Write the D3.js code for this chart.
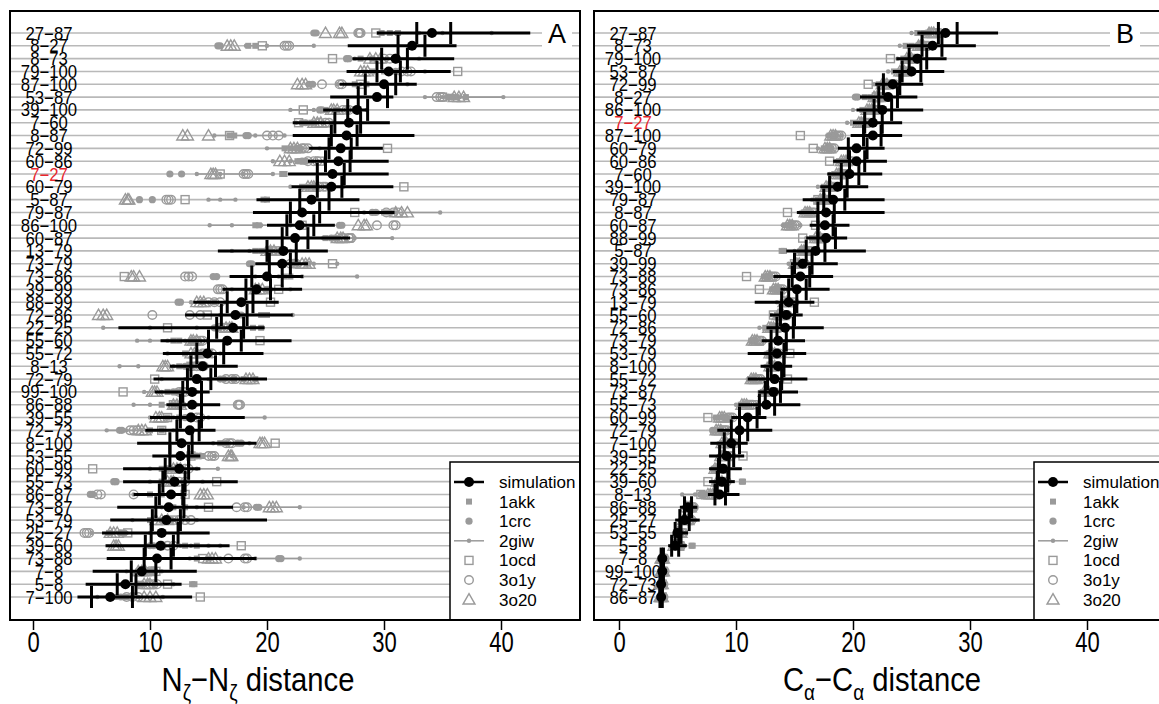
<!DOCTYPE html>
<html>
<head>
<meta charset="utf-8">
<script src="https://cdn.jsdelivr.net/npm/d3@7"></script>
<style>
  body { margin: 0; background: #fff; }
  text { font-family: 'Liberation Sans', Arial, sans-serif; }
</style>
</head>
<body>
<svg id="main"></svg>
<script>
// ---------- panel A : Nz-Nz distances ----------
const labelsA = ['27−87','8−27','8−73','79−100','87−100','53−87','39−100','7−60','8−87','72−99','60−86','7−27','60−79','5−87','79−87','86−100','60−87','13−79','73−79','73−86','39−99','88−99','72−86','22−25','55−60','55−72','8−13','72−79','99−100','86−88','39−55','72−73','8−100','53−55','60−99','55−73','86−87','73−87','53−79','25−27','39−60','73−88','7−8','5−8','7−100'];
const medA = [34.1,32.4,31.0,30.4,30.0,29.4,27.7,27.0,26.8,26.3,26.1,25.6,25.5,23.8,23.0,22.8,22.4,21.4,21.3,20.0,19.1,17.8,17.3,17.1,16.6,14.9,14.5,14.0,13.6,13.6,13.5,13.4,12.7,12.6,12.5,12.1,11.8,11.6,11.4,11.0,10.9,10.6,9.3,7.9,6.6];
const loA = [29.4,26.9,27.3,26.8,26.2,25.4,24.8,22.2,22.2,23.6,23.5,21.8,22.1,19.1,18.8,20.0,18.4,15.8,19.0,16.8,16.2,13.7,13.0,7.3,10.9,11.1,11.7,10.3,10.4,11.4,10.0,9.6,8.9,10.2,7.7,7.7,8.6,7.2,6.6,5.9,6.2,6.3,5.1,4.5,3.8];
const hiA = [42.5,36.2,36.0,35.7,32.8,30.8,28.6,30.5,32.6,29.9,30.4,30.4,30.8,27.9,30.9,25.8,27.1,25.2,23.5,23.1,23.0,21.0,22.2,19.8,22.1,19.7,17.5,20.0,15.1,16.0,18.1,15.6,19.1,14.3,14.3,17.5,13.1,17.1,20.0,15.1,16.8,19.1,14.0,12.7,13.6];
const q1A = [32.8,31.2,29.8,29.4,28.4,27.8,26.9,25.8,25.5,25.3,25.0,24.3,24.3,22.8,22.0,21.7,21.3,20.0,20.2,18.7,18.2,16.6,16.1,15.7,15.0,14.0,13.5,13.2,12.8,12.6,12.6,12.3,11.7,11.7,11.3,11.1,10.8,10.5,10.2,10.1,9.6,9.5,8.4,7.2,5.0];
const q3A = [35.7,33.5,32.0,31.4,31.0,30.3,28.6,28.0,27.7,27.2,27.1,26.6,26.4,25.3,24.5,24.0,23.5,22.5,22.0,21.3,20.3,18.8,18.3,18.0,17.8,16.3,15.6,15.2,14.4,14.4,14.4,14.2,13.6,13.3,13.3,13.0,12.8,12.9,12.6,12.4,12.0,11.8,10.5,8.8,8.5];

const giwA = [[29.5,31,33,35,39.2],[18.2,19,20,24],[27.5,29,31,33],[28.5,30,32,33.5],[26,28,30,32],[33.5,35,36.5,40.2],[22,24,26,28.5],[22.5,24,25.5,27],[15.5,17,19,21.5],[20,21.5,23,24.5],
  [20.5,22,23.5,25],[14,16,18,20.5],[22,23.5,25,26.5],[15,16,17.3],[28.3,29.5,31,34.8],[15.1,17,19.5,22],[24.8,26,27.5,30.7],[17,18.5,20,22],[21,22.5,24,26],[19,21,23,27.7],
  [17,18.5,20,22],[13.5,15,16.5,18],[16,18,20,22.2],[6,10,14,17],[8.9,10,11.5,13],[11.5,13,14.5,16],[7.4,9,12,14],[11,13,15,17],[9.5,11,12.5,14],[8.6,10,12,14],
  [10,12,15,19.8],[6.3,8,10,12],[15.4,16.5,17.5,18.5],[12.5,14,15.5,17],[10,12,14,15.8],[10,11.5,13,14.5],[8.6,10,11.5,13],[11,14,18,22.8],[8.5,10,12,14],[5,6.5,8,10],
  [12.6,13.5,15,16],[13.4,16,19,22.8],[8,9,10,11],[7.5,9,10.5,12],[5.5,7,9,11.1]];
const akkA = [[29.8,30.5,31.2],[18.4,19.0],[28.0,29.0],[29,30],[27.5,28.5],[36.2,37],[25,26],[23.8,24.0],[16.8,17.2],[21.5,22.0],
  [22.6,22.8],[21.3,21.5],[23,23.5],[19.7,20.0],[30,30.5],[19.0,19.3],[25,26],[19,19.5],[22.5,23.5],[21.5,22],
  [19,20],[14.5,15.5],[19.5,20],[18.8,19.5],[12,12.5],[13,14],[12.5,13.5],[17.2,18,19],[11.5,12.5],[11,12],
  [11.5,12.5],[10,11],[16,16.5],[13.5,14.5],[11,12],[11,12],[10,11],[12,13],[10,11],[6.5,7.5],
  [13,14],[14,15],[9,10],[13.6,13.8],[7,8]];
const crcA = [[24.0,24.2],[15.8,16.0],[26.8,27.0],[30.5,31],[23.6,23.9],[35.5,35.8],[24.5,24.7],[23,23.3],[18.2,18.4],[22.5,22.8],
  [23,23.3],[11.7,12.7],[24,24.2],[9.1,10.2],[29,29.3],[26.2,26.4],[25.5,25.8],[20,20.3],[18.5,18.7],[15.4,15.7],
  [20,20.2],[12.4,12.6],[17.5,17.8],[15.5,15.8],[13.5,13.8],[14,14.3],[13,13.3],[16,16.3],[12,12.3],[12.5,12.8],
  [13,13.3],[7.4,7.6],[17.5,17.8],[14,14.3],[11.5,11.8],[6.9,7.1],[4.9,5.1],[19.1,19.3],[11.5,11.8],[7.5,7.8],
  [10,10.3],[21,21.2],[10,10.3],[9,9.3],[7.5,7.8]];
const ocdA = [29.3,19.6,25.6,36.3,28.0,35.0,23.1,22.7,16.8,30.3,24.5,16.0,31.7,13.0,27.5,23.0,27.0,20.5,25.6,7.8,21.0,20.3,14.9,11.5,19.4,15.0,13.5,10.4,7.7,12.0,11.5,11.0,20.7,13.5,5.1,15.7,13.0,15.0,12.0,8.1,17.8,14.5,10.5,11.5,14.3];
const o1yA = [[27.8,27.9,28.0],[21.5,21.7,21.9],[30,30.5,31],[31.5,32,32.3],[24.7,26.2,26.4],[34.5,34.8,35],[26.5,26.8,27],[24.5,25,25.3],[20,20.5,21],[23,23.2,23.5],
  [23.5,24,24.3],[18,18.2,18.4],[24.5,24.8,25],[11.4,11.6,11.8],[30.2,30.8,31.2],[29.4,30.8,31.0],[26.5,27,27.2],[20.5,21,21.3],[22,22.3,22.5],[13,13.3,13.6],
  [15.8,16,16.2],[15,15.5,16],[10.2,13.4,14.3],[16,16.3,16.6],[14,14.3,14.5],[14.5,15,15.3],[14,14.3,14.6],[16.5,17,17.3],[12.5,12.8,13],[17.5,17.6,17.7],
  [13.5,14,14.3],[8.3,8.6,8.9],[16.5,16.8,17],[15,15.3,15.5],[12.5,13,13.3],[12,12.5,13],[5.5,5.8,8.6],[17.4,18.1,18.3],[12.5,13,13.5],[4.4,4.6,4.8],
  [11,11.5,12],[16.7,18.1,18.3],[9.5,10,10.3],[10,10.3,10.6],[8,8.5,9]];
const o20A = [[25.0,26.2,26.4],[16.6,16.9,17.2],[28.8,29.3,29.7],[28,28.3,28.6],[22.6,23,23.3],[36,36.4,36.8],[25.5,25.7,26],[24,24.3,24.6],[12.8,13.2,15.0],[22,22.3,22.6],
  [21.1,21.5,21.9],[15.2,15.4,15.6],[23.5,23.8,24],[7.9,8.1,8.2],[31,31.5,32],[27.8,28.3,28.5],[26,26.3,26.5],[20,20.3,20.6],[23,23.3,23.6],[8.4,8.6,9.1],
  [19,19.3,19.6],[14,14.3,14.6],[5.6,6.0,6.3],[16.5,16.8,17],[13.5,13.7,14],[13.5,13.8,14],[11.1,11.3,11.5],[18.2,18.5,18.8],[10.2,10.4,10.6],[12,12.3,12.6],
  [10.5,10.8,11],[9,9.3,9.6],[19.4,19.6,19.8],[16.7,16.9,17],[12,12.3,12.6],[11.5,11.8,12],[14.3,14.6,14.9],[20.2,20.5,20.8],[10.5,11,11.5],[6.6,6.9,7.2],
  [6.9,7.1,7.3],[15,15.3,15.6],[9,9.3,9.6],[9.5,9.8,10],[9.5,10,10.5]];

// ---------- panel B : Ca-Ca distances ----------
const labelsB = ['27−87','8−73','79−100','53−87','72−99','8−27','86−100','7−27','87−100','60−79','60−86','7−60','39−100','79−87','8−87','60−87','88−99','5−87','39−99','73−88','73−86','13−79','55−60','72−86','73−79','53−79','8−100','55−72','73−87','55−73','60−99','72−79','7−100','39−55','22−25','39−60','8−13','86−88','25−27','53−55','5−8','7−8','99−100','72−73','86−87'];
const medB = [27.9,26.8,25.5,25.0,23.4,23.0,22.5,21.7,21.7,20.3,20.3,19.7,18.7,18.3,17.7,17.6,17.7,16.8,15.7,15.5,15.2,14.5,14.3,14.2,13.6,13.5,13.6,13.3,13.2,12.6,11.0,10.3,9.6,9.2,8.9,8.8,8.6,5.9,5.6,5.0,4.8,3.7,3.7,3.6,3.6];
const loB = [25.5,24.6,23.7,23.4,21.9,20.6,20.3,20.0,19.8,18.7,18.3,17.8,17.2,15.7,15.2,16.3,16.0,14.3,14.7,13.2,13.8,11.6,12.9,12.6,12.2,11.0,12.1,11.0,11.9,10.2,9.6,8.4,7.8,7.7,7.7,7.7,7.6,5.2,4.8,4.6,4.2,3.5,3.5,3.5,3.5];
const hiB = [32.4,30.5,28.0,27.8,26.0,25.5,26.0,24.2,24.2,22.7,22.9,22.5,21.3,22.7,22.7,19.7,19.5,21.1,18.7,18.3,18.0,16.7,15.7,17.5,15.9,16.0,14.8,16.1,15.3,15.5,12.6,13.1,11.0,10.7,10.5,9.9,10.3,6.7,6.9,5.9,5.8,3.9,3.9,3.8,3.8];
const q1B = [27.3,25.9,24.8,24.2,22.6,22.2,21.8,21.0,20.9,19.6,19.7,19.0,18.0,17.5,17.0,17.0,17.0,16.0,15.0,14.8,14.5,13.9,13.8,13.5,13.0,12.9,13.0,12.7,12.5,12.0,10.3,9.6,9.0,8.6,8.5,8.4,8.2,5.6,5.2,4.8,4.5,3.6,3.6,3.5,3.5];
const q3B = [28.9,27.6,26.3,25.8,24.0,23.8,23.3,22.5,22.4,21.2,21.0,20.5,19.5,19.3,18.4,18.3,18.5,17.6,16.5,16.3,16.0,15.2,15.0,14.9,14.3,14.1,14.1,13.9,13.8,13.3,11.8,11.0,10.3,9.8,9.4,9.3,9.1,6.2,6.0,5.3,5.1,3.8,3.8,3.7,3.7];

const giwB = [[25,26,27.5],[24,25,26.2],[23.8,24.5,25],[23,23.8,24.5],[21.8,22.5,23.5],[20.2,21.5,22.5],[20,21,22],[19.5,20.5,21.5],[17.8,18.4,19],[17,17.6,18.2],
  [18.5,19.2,20],[18,18.8,19.5],[17,17.8,18.5],[16.5,17.2,18],[15.5,16,16.5],[14,14.8,15.5],[16,16.8,17.5],[15,15.8,16.5],[14.5,15.2,16],[12.3,12.9,13.5],
  [13,13.5,14],[13.5,14.2,15],[13,13.8,14.5],[12,12.8,13.5],[11.2,11.8,12.5],[12.5,13,13.5],[12.5,13,13.5],[11,11.6,12.3],[12,12.5,13],[10,10.9,11.8],
  [8.2,8.8,9.5],[8,8.6,9.3],[8.5,9,9.5],[8.5,9,9.5],[8,8.5,9],[8.2,8.6,9],[5.4,6.5,7.6],[5.5,6,6.5],[5.2,5.8,6.5],[4.8,5.2,5.6],
  [4.6,5,5.5],[3.5,3.7,3.9],[3.5,3.7,3.9],[3.5,3.6,3.8],[3.5,3.6,3.8]];
const akkB = [[25.5,26],[24.5,25],[24.3,24.6],[23.5,24],[22.2,22.6],[21,21.5],[20.8,21.2],[20,20.5],[18,18.4],[17.5,17.9],
  [18.8,19.2],[18.4,18.8],[17.5,17.9],[17,17.4],[15.8,16.2],[14.2,14.6],[16.5,16.9],[13.9,14.1],[15,15.4],[12.4,12.8],
  [13.1,13.5],[14,14.4],[13.5,13.9],[12.5,12.9],[11.3,11.6],[12.8,13.2],[12.8,13.1],[11.2,11.5],[12.3,12.7],[10.4,10.8],
  [8.3,8.8],[8.2,8.6],[8.8,9.2],[8.8,9.1],[8.1,8.4],[10.5,10.6],[7.4,7.5],[5.8,6.1],[5.5,5.8],[5,5.3],
  [6.2,6.3],[3.6,3.7],[3.6,3.7],[3.5,3.6],[3.5,3.6]];
const crcB = [[26.3,26.5],[25.5,25.8],[24.8,25],[24.2,24.4],[22.8,23],[20.2,20.4],[21.3,21.5],[20.8,21],[18.2,18.5],[17.8,18],
  [19.4,19.6],[19,19.2],[18,18.2],[17.5,17.7],[16,16.2],[14.5,14.7],[17,17.2],[15.5,15.7],[15.2,15.4],[12.6,12.8],
  [13.3,13.5],[14.3,14.5],[13.8,14],[13,13.2],[11.4,11.6],[13,13.2],[13,13.2],[11.3,11.5],[12.6,12.8],[10.6,10.8],
  [9,9.2],[8,8.3],[9,9.2],[9,9.2],[8.1,8.3],[8.5,8.7],[7.0,7.2],[6,6.2],[5.6,5.8],[5.1,5.3],
  [4.9,5.1],[3.7,3.8],[3.7,3.8],[3.6,3.7],[3.6,3.7]];
const ocdB = [26.8,25.9,23.2,24.6,21.3,22.0,21.6,21.0,15.5,16.6,18.0,19.0,18.3,17.0,14.4,16.8,15.7,15.8,15.0,10.9,12.0,16.7,13.2,13.5,12.0,14.6,13.0,14.4,13.0,11.5,7.6,9.0,9.8,10.6,8.8,7.6,7.0,6.2,6.0,5.4,5.2,3.8,3.8,3.7,3.7];
const o1yB = [[27,27.2,27.4],[26,26.2,26.4],[25.2,25.3,25.5],[24.6,24.8,25],[23.2,23.4,23.6],[22.2,22.4,22.6],[21.8,22,22.2],[21,21.2,21.4],[18.6,18.8,19],[18,18.2,18.4],
  [19.5,19.7,19.9],[19.2,19.4,19.6],[18.2,18.4,18.6],[17.6,17.8,18],[16.3,16.5,16.7],[14.8,15,15.2],[17.2,17.4,17.6],[16,16.2,16.4],[15.5,15.7,15.9],[13,13.2,13.4],
  [13.6,13.8,14],[14.6,14.8,15],[14,14.2,14.4],[13.3,13.5,13.7],[11.8,12,12.2],[13.3,13.5,13.7],[13.2,13.4,13.6],[11.7,11.9,12.1],[12.9,13.1,13.3],[11,11.2,11.4],
  [9.3,9.5,9.7],[8.8,9,9.2],[9.3,9.5,9.7],[9.2,9.4,9.6],[8.5,8.7,8.9],[8.8,9,9.2],[8,8.2,8.4],[6.1,6.3,6.4],[5.8,6,6.2],[5.2,5.4,5.5],
  [5,5.1,5.3],[3.7,3.8,3.9],[3.7,3.8,3.9],[3.6,3.7,3.8],[3.6,3.7,3.8]];
const o20B = [[26.5,26.7,26.9],[25.6,25.8,26],[24.6,24.8,25],[24,24.2,24.4],[22.5,22.7,22.9],[21.8,22,22.2],[21.2,21.4,21.6],[20.5,20.7,20.9],[18.1,18.3,18.5],[17.6,17.8,18],
  [19,19.2,19.4],[18.6,18.8,19],[17.7,17.9,18.1],[17.2,17.4,17.6],[15.9,16.1,16.3],[14.4,14.6,14.8],[16.8,17,17.2],[15.6,15.8,16],[15,15.2,15.4],[12.5,12.7,12.9],
  [13.2,13.4,13.6],[14.1,14.3,14.5],[13.6,13.8,14],[12.8,13,13.2],[11.4,11.6,11.8],[12.9,13.1,13.3],[12.9,13.1,13.3],[11.3,11.5,11.7],[12.4,12.6,12.8],[10.5,10.7,10.9],
  [8.6,8.8,9],[8.3,8.5,8.7],[8.8,9,9.2],[8.7,8.9,9.1],[8.2,8.4,8.6],[8.4,8.6,8.8],[7.6,7.8,8],[5.8,6,6.1],[5.5,5.7,5.9],[5,5.1,5.3],
  [4.7,4.9,5],[3.6,3.7,3.8],[3.6,3.7,3.8],[3.5,3.6,3.7],[3.5,3.6,3.7]];

const xTicks = [0, 10, 20, 30, 40];
const legendNames = ['simulation', '1akk', '1crc', '2giw', '1ocd', '3o1y', '3o20'];
const highlight = '7−27';

// ---------- drawing ----------
const width = 1159, height = 704;
const svg = d3.select('#main').attr('width', width).attr('height', height);

const GRAY = '#9a9a9a', ROWLINE = '#b9b9b9';
const panelTop = 11, panelBottom = 620;

const spread = (rows, labels) => {
  let out = [];
  rows.forEach((vals, i) => {
    [].concat(vals).forEach(v => out.push({ row: labels[i], v: v }));
  });
  return out;
};

const drawPanel = (p) => {
  const g = svg.append('g');
  const x = d3.scaleLinear().domain([0, 40]).range([p.zero, p.zero + 468]);
  const y = d3.scalePoint().domain(p.labels).range([33, 597]);

  g.append('rect')
    .attr('x', p.left).attr('y', panelTop)
    .attr('width', p.right - p.left).attr('height', panelBottom - panelTop)
    .attr('fill', 'white');

  // row guide lines
  g.selectAll('.row')
    .data(p.labels)
    .enter()
    .append('line')
    .attr('x1', p.left).attr('x2', p.right)
    .attr('y1', d => y(d)).attr('y2', d => y(d))
    .attr('stroke', ROWLINE)
    .attr('stroke-width', 1.6);

  // row labels
  g.selectAll('.lab')
    .data(p.labels)
    .enter()
    .append('text')
    .text(d => d)
    .attr('transform', d => `translate(${p.left + 39},${y(d) + 6.5}) scale(0.93,1)`)
    .attr('text-anchor', 'middle')
    .attr('font-size', 18)
    .attr('fill', d => d == highlight ? '#e8262d' : 'black');

  // 2giw: range line + small points
  g.selectAll('.giw')
    .data(p.giw.map((v, i) => ({ row: p.labels[i], a: d3.min(v), b: d3.max(v) })))
    .enter()
    .append('line')
    .attr('x1', d => x(d.a)).attr('x2', d => x(d.b))
    .attr('y1', d => y(d.row)).attr('y2', d => y(d.row))
    .attr('stroke', GRAY)
    .attr('stroke-width', 1.6);

  g.selectAll('.giwpt')
    .data(spread(p.giw, p.labels))
    .enter()
    .append('circle')
    .attr('cx', d => x(d.v)).attr('cy', d => y(d.row))
    .attr('r', 2.2)
    .attr('fill', GRAY);

  // 1akk filled squares
  g.selectAll('.akk')
    .data(spread(p.akk, p.labels))
    .enter()
    .append('rect')
    .attr('x', d => x(d.v) - 3).attr('y', d => y(d.row) - 3)
    .attr('width', 6).attr('height', 6)
    .attr('fill', GRAY);

  // 1crc filled circles
  g.selectAll('.crc')
    .data(spread(p.crc, p.labels))
    .enter()
    .append('circle')
    .attr('cx', d => x(d.v)).attr('cy', d => y(d.row))
    .attr('r', 3.6)
    .attr('fill', GRAY);

  // 1ocd open squares
  g.selectAll('.ocd')
    .data(spread(p.ocd, p.labels))
    .enter()
    .append('rect')
    .attr('x', d => x(d.v) - 4).attr('y', d => y(d.row) - 4)
    .attr('width', 8).attr('height', 8)
    .attr('fill', 'none')
    .attr('stroke', GRAY)
    .attr('stroke-width', 1.4);

  // 3o1y open circles
  g.selectAll('.o1y')
    .data(spread(p.o1y, p.labels))
    .enter()
    .append('circle')
    .attr('cx', d => x(d.v)).attr('cy', d => y(d.row))
    .attr('r', 4.3)
    .attr('fill', 'none')
    .attr('stroke', GRAY)
    .attr('stroke-width', 1.4);

  // 3o20 open triangles
  g.selectAll('.o20')
    .data(spread(p.o20, p.labels))
    .enter()
    .append('path')
    .attr('d', d3.symbol(d3.symbolTriangle).size(62))
    .attr('transform', d => `translate(${x(d.v)},${y(d.row) + 1})`)
    .attr('fill', 'none')
    .attr('stroke', GRAY)
    .attr('stroke-width', 1.4);

  // simulation: range, quartile ticks, median
  g.selectAll('.whisk')
    .data(p.labels)
    .enter()
    .append('line')
    .attr('x1', (d, i) => x(p.lo[i])).attr('x2', (d, i) => x(p.hi[i]))
    .attr('y1', d => y(d)).attr('y2', d => y(d))
    .attr('stroke', 'black')
    .attr('stroke-width', 3);

  [p.q1, p.q3].forEach(q => {
    g.selectAll('.qt')
      .data(p.labels, function () { return null; })
      .enter()
      .append('line')
      .attr('x1', (d, i) => x(q[i])).attr('x2', (d, i) => x(q[i]))
      .attr('y1', d => y(d) - 11).attr('y2', d => y(d) + 11)
      .attr('stroke', 'black')
      .attr('stroke-width', 3);
  });

  g.selectAll('.med')
    .data(p.labels)
    .enter()
    .append('circle')
    .attr('cx', (d, i) => x(p.med[i])).attr('cy', d => y(d))
    .attr('r', 5)
    .attr('fill', 'black');

  // panel letter
  g.append('rect')
    .attr('x', p.letterX - 15).attr('y', 19)
    .attr('width', 30).attr('height', 28)
    .attr('fill', 'white');
  g.append('text')
    .text(p.letter)
    .attr('x', p.letterX).attr('y', 43)
    .attr('text-anchor', 'middle')
    .attr('font-size', 27);

  // legend
  const lx = p.right - 130, ly = 462;
  g.append('rect')
    .attr('x', lx).attr('y', ly)
    .attr('width', 130).attr('height', panelBottom - ly)
    .attr('fill', 'white')
    .attr('stroke', 'black')
    .attr('stroke-width', 1.5);
  const sx = lx + 19;
  legendNames.forEach((name, i) => {
    const yy = ly + 20 + i * 19.6;
    if (i == 0 || i == 3) {
      g.append('line')
        .attr('x1', sx - 15).attr('x2', sx + 15)
        .attr('y1', yy).attr('y2', yy)
        .attr('stroke', i == 0 ? 'black' : GRAY)
        .attr('stroke-width', i == 0 ? 2.5 : 1.5);
      g.append('circle')
        .attr('cx', sx).attr('cy', yy)
        .attr('r', i == 0 ? 5 : 2.2)
        .attr('fill', i == 0 ? 'black' : GRAY);
    } else if (i == 1) {
      g.append('rect').attr('x', sx - 3).attr('y', yy - 3)
        .attr('width', 6).attr('height', 6).attr('fill', GRAY);
    } else if (i == 2) {
      g.append('circle').attr('cx', sx).attr('cy', yy).attr('r', 3.6).attr('fill', GRAY);
    } else if (i == 4) {
      g.append('rect').attr('x', sx - 4).attr('y', yy - 4)
        .attr('width', 8).attr('height', 8)
        .attr('fill', 'none').attr('stroke', GRAY).attr('stroke-width', 1.4);
    } else if (i == 5) {
      g.append('circle').attr('cx', sx).attr('cy', yy).attr('r', 4.3)
        .attr('fill', 'none').attr('stroke', GRAY).attr('stroke-width', 1.4);
    } else {
      g.append('path')
        .attr('d', d3.symbol(d3.symbolTriangle).size(62))
        .attr('transform', `translate(${sx},${yy + 1})`)
        .attr('fill', 'none').attr('stroke', GRAY).attr('stroke-width', 1.4);
    }
    g.append('text')
      .text(name)
      .attr('x', lx + 49).attr('y', yy + 6)
      .attr('font-size', 17);
  });

  // frame
  g.append('rect')
    .attr('x', p.left).attr('y', panelTop)
    .attr('width', p.right - p.left).attr('height', panelBottom - panelTop)
    .attr('fill', 'none')
    .attr('stroke', 'black')
    .attr('stroke-width', 2);

  // x axis
  const ax = g.append('g')
    .attr('transform', `translate(0, ${panelBottom})`)
    .call(d3.axisBottom(x).tickValues(xTicks).tickSize(10).tickPadding(1).tickFormat(d3.format('d')));
  ax.select('.domain').remove();
  ax.selectAll('line').attr('stroke-width', 1.5);
  ax.selectAll('text')
    .attr('font-size', 29)
    .attr('font-family', "'Liberation Sans', Arial, sans-serif")
    .attr('transform', 'scale(0.76,1)');

  // axis title
  const t = g.append('text')
    .attr('transform', `translate(${p.titleX},691) scale(0.86,1)`)
    .attr('text-anchor', 'middle')
    .attr('font-size', 34);
  t.append('tspan').text(p.title[0]);
  t.append('tspan').text(p.title[1]).attr('font-size', 22).attr('dy', 9);
  t.append('tspan').text('−' + p.title[0]).attr('dy', -9);
  t.append('tspan').text(p.title[1]).attr('font-size', 22).attr('dy', 9);
  t.append('tspan').text(' distance').attr('dy', -9);
};

drawPanel({
  left: 10, right: 580, zero: 33, letter: 'A', letterX: 557, titleX: 258,
  title: ['N', 'ζ'],
  labels: labelsA, med: medA, lo: loA, hi: hiA, q1: q1A, q3: q3A,
  giw: giwA, akk: akkA, crc: crcA, ocd: ocdA, o1y: o1yA, o20: o20A
});

drawPanel({
  left: 594, right: 1164, zero: 619, letter: 'B', letterX: 1125, titleX: 882,
  title: ['C', 'α'],
  labels: labelsB, med: medB, lo: loB, hi: hiB, q1: q1B, q3: q3B,
  giw: giwB, akk: akkB, crc: crcB, ocd: ocdB, o1y: o1yB, o20: o20B
});
</script>
</body>
</html>
